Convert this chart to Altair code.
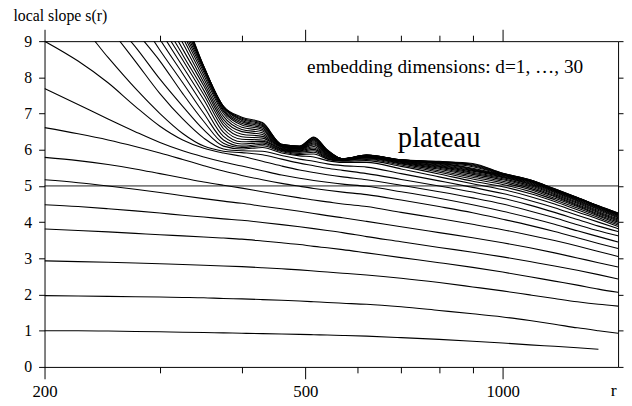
import altair as alt
import pandas as pd

# r sample points (log axis)
R_VALUES = [200, 225, 250, 275, 300, 325, 350, 375, 400, 430, 460, 490, 515,
            540, 570, 620, 700, 800, 900, 1000, 1100, 1200, 1300, 1400, 1500]

# local slope s(r) for embedding dimensions d = 1 ... 30 (values > 9 lie above the frame)
S_D01 = [1.00, 1.00, 0.99, 0.98, 0.97, 0.96, 0.95, 0.94, 0.93, 0.92, 0.91, 0.90, 0.89, 0.88, 0.87, 0.85, 0.81, 0.76, 0.71, 0.66, 0.61, 0.57, 0.53, 0.49, None]
S_D02 = [1.97, 1.96, 1.95, 1.94, 1.93, 1.92, 1.91, 1.89, 1.88, 1.86, 1.84, 1.82, 1.80, 1.78, 1.76, 1.73, 1.66, 1.56, 1.47, 1.38, 1.28, 1.18, 1.08, 1.00, 0.93]
S_D03 = [2.93, 2.91, 2.89, 2.87, 2.85, 2.83, 2.81, 2.79, 2.77, 2.74, 2.71, 2.68, 2.65, 2.62, 2.59, 2.54, 2.45, 2.33, 2.21, 2.10, 1.99, 1.89, 1.80, 1.73, 1.68]
S_D04 = [3.81, 3.77, 3.73, 3.69, 3.65, 3.62, 3.59, 3.56, 3.53, 3.48, 3.43, 3.38, 3.33, 3.29, 3.24, 3.15, 3.02, 2.88, 2.75, 2.62, 2.49, 2.37, 2.26, 2.15, 2.06]
S_D05 = [4.48, 4.43, 4.37, 4.31, 4.25, 4.19, 4.14, 4.09, 4.05, 3.99, 3.93, 3.87, 3.82, 3.77, 3.71, 3.60, 3.46, 3.30, 3.17, 3.04, 2.91, 2.79, 2.67, 2.55, 2.43]
S_D06 = [5.17, 5.09, 5.00, 4.91, 4.82, 4.73, 4.65, 4.58, 4.52, 4.44, 4.37, 4.30, 4.24, 4.18, 4.12, 4.02, 3.87, 3.71, 3.57, 3.43, 3.29, 3.15, 3.01, 2.88, 2.76]
S_D07 = [5.79, 5.70, 5.59, 5.47, 5.34, 5.22, 5.11, 5.02, 4.94, 4.84, 4.75, 4.67, 4.61, 4.56, 4.50, 4.43, 4.27, 4.10, 3.94, 3.79, 3.64, 3.49, 3.34, 3.19, 3.05]
S_D08 = [6.61, 6.44, 6.27, 6.09, 5.91, 5.73, 5.56, 5.41, 5.29, 5.17, 5.07, 4.99, 4.93, 4.88, 4.83, 4.76, 4.61, 4.43, 4.26, 4.08, 3.91, 3.74, 3.57, 3.41, 3.27]
S_D09 = [7.69, 7.25, 6.85, 6.50, 6.20, 5.97, 5.80, 5.66, 5.55, 5.42, 5.30, 5.21, 5.15, 5.10, 5.05, 4.99, 4.84, 4.66, 4.48, 4.30, 4.12, 3.94, 3.76, 3.60, 3.45]
S_D10 = [9.00, 8.45, 7.85, 7.20, 6.65, 6.27, 6.04, 5.91, 5.82, 5.68, 5.55, 5.44, 5.37, 5.31, 5.25, 5.17, 5.02, 4.84, 4.67, 4.50, 4.31, 4.12, 3.93, 3.76, 3.62]
S_D11 = [10.3, 9.55, 8.55, 7.70, 7.00, 6.45, 6.10, 5.96, 5.92, 5.86, 5.74, 5.63, 5.56, 5.49, 5.43, 5.34, 5.18, 5.00, 4.83, 4.66, 4.47, 4.27, 4.07, 3.89, 3.74]
S_D12 = [10.9, 10.3, 9.40, 8.45, 7.55, 6.85, 6.32, 6.02, 5.97, 5.96, 5.84, 5.74, 5.68, 5.61, 5.56, 5.52, 5.34, 5.14, 4.96, 4.79, 4.60, 4.40, 4.19, 4.00, 3.82]
S_D13 = [11.4, 10.8, 9.70, 8.85, 7.95, 7.20, 6.55, 6.10, 6.02, 6.06, 5.91, 5.83, 5.80, 5.70, 5.65, 5.65, 5.47, 5.25, 5.06, 4.90, 4.71, 4.50, 4.28, 4.08, 3.88]
S_D14 = [11.8, 11.2, 10.3, 9.30, 8.45, 7.55, 6.78, 6.18, 6.06, 6.11, 5.95, 5.87, 5.88, 5.74, 5.68, 5.70, 5.54, 5.33, 5.13, 4.98, 4.79, 4.57, 4.34, 4.13, 3.92]
S_D15 = [12.2, 11.6, 10.8, 9.80, 8.75, 7.85, 7.00, 6.27, 6.10, 6.15, 5.97, 5.90, 5.93, 5.76, 5.70, 5.73, 5.58, 5.38, 5.19, 5.04, 4.85, 4.62, 4.39, 4.17, 3.96]
S_D16 = [12.5, 12.0, 11.2, 10.2, 9.05, 8.10, 7.20, 6.37, 6.16, 6.19, 5.99, 5.93, 5.97, 5.78, 5.71, 5.75, 5.61, 5.42, 5.24, 5.09, 4.90, 4.66, 4.43, 4.20, 4.00]
S_D17 = [12.8, 12.3, 11.5, 10.5, 9.30, 8.30, 7.38, 6.48, 6.22, 6.23, 6.01, 5.95, 6.01, 5.80, 5.72, 5.77, 5.63, 5.46, 5.28, 5.13, 4.94, 4.70, 4.46, 4.23, 4.03]
S_D18 = [13.0, 12.5, 11.8, 10.8, 9.50, 8.48, 7.52, 6.58, 6.29, 6.27, 6.03, 5.97, 6.05, 5.82, 5.73, 5.78, 5.65, 5.49, 5.32, 5.17, 4.98, 4.73, 4.49, 4.26, 4.06]
S_D19 = [13.2, 12.7, 12.0, 11.0, 9.70, 8.62, 7.64, 6.68, 6.36, 6.32, 6.05, 5.99, 6.09, 5.84, 5.74, 5.79, 5.66, 5.52, 5.35, 5.20, 5.01, 4.76, 4.52, 4.29, 4.09]
S_D20 = [13.4, 12.9, 12.2, 11.2, 9.90, 8.78, 7.76, 6.76, 6.43, 6.37, 6.07, 6.01, 6.13, 5.86, 5.74, 5.80, 5.67, 5.54, 5.38, 5.23, 5.04, 4.79, 4.55, 4.32, 4.12]
S_D21 = [13.5, 13.0, 12.4, 11.4, 10.1, 8.95, 7.86, 6.84, 6.50, 6.42, 6.08, 6.02, 6.16, 5.88, 5.75, 5.81, 5.68, 5.56, 5.41, 5.25, 5.06, 4.82, 4.58, 4.35, 4.14]
S_D22 = [13.6, 13.1, 12.5, 11.6, 10.3, 9.10, 7.96, 6.92, 6.56, 6.47, 6.09, 6.03, 6.19, 5.90, 5.75, 5.82, 5.69, 5.58, 5.43, 5.27, 5.08, 4.84, 4.60, 4.37, 4.16]
S_D23 = [13.7, 13.2, 12.6, 11.7, 10.5, 9.22, 8.06, 7.00, 6.62, 6.52, 6.10, 6.04, 6.22, 5.92, 5.75, 5.83, 5.70, 5.60, 5.45, 5.29, 5.10, 4.86, 4.62, 4.39, 4.18]
S_D24 = [13.8, 13.3, 12.7, 11.8, 10.6, 9.32, 8.14, 7.06, 6.68, 6.56, 6.11, 6.05, 6.25, 5.93, 5.75, 5.83, 5.70, 5.62, 5.47, 5.30, 5.12, 4.87, 4.64, 4.41, 4.20]
S_D25 = [13.9, 13.4, 12.8, 11.9, 10.7, 9.42, 8.20, 7.10, 6.73, 6.60, 6.12, 6.06, 6.27, 5.95, 5.75, 5.84, 5.71, 5.63, 5.49, 5.31, 5.13, 4.88, 4.65, 4.42, 4.21]
S_D26 = [14.0, 13.5, 12.9, 12.0, 10.8, 9.52, 8.24, 7.14, 6.77, 6.64, 6.13, 6.07, 6.29, 5.96, 5.75, 5.84, 5.71, 5.64, 5.53, 5.32, 5.14, 4.89, 4.66, 4.43, 4.22]
S_D27 = [14.1, 13.6, 13.0, 12.1, 10.9, 9.60, 8.27, 7.17, 6.81, 6.67, 6.14, 6.08, 6.31, 5.97, 5.75, 5.85, 5.72, 5.65, 5.56, 5.33, 5.15, 4.90, 4.67, 4.44, 4.23]
S_D28 = [14.2, 13.7, 13.1, 12.2, 11.0, 9.68, 8.29, 7.19, 6.84, 6.70, 6.14, 6.09, 6.33, 5.98, 5.75, 5.85, 5.72, 5.66, 5.58, 5.34, 5.16, 4.91, 4.67, 4.44, 4.24]
S_D29 = [14.3, 13.8, 13.2, 12.3, 11.1, 9.75, 8.30, 7.20, 6.87, 6.73, 6.15, 6.10, 6.34, 5.99, 5.75, 5.85, 5.72, 5.67, 5.60, 5.35, 5.17, 4.92, 4.68, 4.45, 4.25]
S_D30 = [14.4, 13.9, 13.3, 12.4, 11.2, 9.80, 8.30, 7.20, 6.90, 6.75, 6.15, 6.10, 6.35, 6.00, 5.75, 5.85, 5.72, 5.68, 5.62, 5.35, 5.17, 4.92, 4.68, 4.45, 4.25]

CURVES = [S_D01, S_D02, S_D03, S_D04, S_D05, S_D06, S_D07, S_D08, S_D09, S_D10,
          S_D11, S_D12, S_D13, S_D14, S_D15, S_D16, S_D17, S_D18, S_D19, S_D20,
          S_D21, S_D22, S_D23, S_D24, S_D25, S_D26, S_D27, S_D28, S_D29, S_D30]

X_DOMAIN = [200, 1500]
Y_DOMAIN = [0, 9]
X_MAJOR = [200, 500, 1000]
X_MINOR = [300, 400, 600, 700, 800, 900]
Y_TICKS = [0, 1, 2, 3, 4, 5, 6, 7, 8, 9]
REF_LEVEL = [5]

ANN_TEXT = ["embedding dimensions: d=1, \u2026, 30", "plateau"]
ANN_R = [817, 800]
ANN_S = [8.11, 6.08]

FONT = "Liberation Serif"

rows = []
for d, vals in enumerate(CURVES, start=1):
    for r, s in zip(R_VALUES, vals):
        if s is not None:
            rows.append({"r": r, "s": s, "d": d})
df = pd.DataFrame(rows)

ref_df = pd.DataFrame({"s": REF_LEVEL, "r0": [X_DOMAIN[0]], "r1": [X_DOMAIN[1]]})
emb_df = pd.DataFrame({"r": [ANN_R[0]], "s": [ANN_S[0]], "t": [ANN_TEXT[0]]})
pla_df = pd.DataFrame({"r": [ANN_R[1]], "s": [ANN_S[1]], "t": [ANN_TEXT[1]]})

xscale = alt.Scale(type="log", domain=X_DOMAIN, nice=False)
yscale = alt.Scale(domain=Y_DOMAIN, nice=False)

lines = alt.Chart(df).mark_line(
    color="black", strokeWidth=1.1, clip=True, interpolate="monotone"
).encode(
    x=alt.X("r:Q", scale=xscale, title="r", axis=alt.Axis(
        orient="bottom", values=X_MAJOR, format="d", tickSize=12, labelPadding=5,
        labelFlush=False, labelOverlap=False,
        domain=False, grid=False, tickColor="black",
        labelFont=FONT, labelFontSize=17, labelColor="black",
        titleX=576, titleY=29, titleAlign="center", titleBaseline="alphabetic",
        titleFont=FONT, titleFontSize=18, titleFontWeight="normal", titleColor="black")),
    y=alt.Y("s:Q", scale=yscale, title="local slope s(r)", axis=alt.Axis(
        orient="left", values=Y_TICKS, format="d", tickSize=6, labelPadding=7,
        labelFlush=False, labelOverlap=False,
        domain=False, grid=False, tickColor="black",
        labelFont=FONT, labelFontSize=16, labelColor="black",
        titleAngle=0, titleX=-32, titleY=-21, titleAlign="left", titleBaseline="alphabetic",
        titleFont=FONT, titleFontSize=16, titleFontWeight="normal", titleColor="black")),
    detail="d:N",
)

rule = alt.Chart(ref_df).mark_rule(color="black", strokeWidth=0.9).encode(
    x=alt.X("r0:Q", scale=xscale, title="", axis=alt.Axis(
        orient="top", values=X_MAJOR, labels=False, tickSize=12,
        domain=False, grid=False, tickColor="black")),
    x2="r1:Q",
    y=alt.Y("s:Q", scale=yscale, title="", axis=alt.Axis(
        orient="right", values=Y_TICKS, labels=False, tickSize=5,
        domain=False, grid=False, tickColor="black")),
)

plateau = alt.Chart(pla_df).mark_text(
    font=FONT, fontSize=29, align="center", baseline="alphabetic", color="black"
).encode(
    x=alt.X("r:Q", scale=xscale, title="", axis=alt.Axis(
        orient="bottom", values=X_MINOR, labels=False, tickSize=6,
        domain=False, grid=False, tickColor="black")),
    y=alt.Y("s:Q", scale=yscale, axis=None),
    text="t:N",
)

embedding = alt.Chart(emb_df).mark_text(
    font=FONT, fontSize=19.5, align="center", baseline="alphabetic", color="black"
).encode(
    x=alt.X("r:Q", scale=xscale, title="", axis=alt.Axis(
        orient="top", values=X_MINOR, labels=False, tickSize=6,
        domain=False, grid=False, tickColor="black")),
    y=alt.Y("s:Q", scale=yscale, axis=None),
    text="t:N",
)

chart = alt.layer(lines, rule, plateau, embedding).resolve_axis(
    x="independent", y="independent"
).properties(
    width=581, height=330,
    autosize=alt.AutoSizeParams(type="none"),
    padding={"left": 37, "top": 31, "right": 6, "bottom": 36},
    background="white",
).configure_view(stroke="black", strokeWidth=1)

chart.save("out.html", embed_options={"renderer": "svg", "actions": False})
